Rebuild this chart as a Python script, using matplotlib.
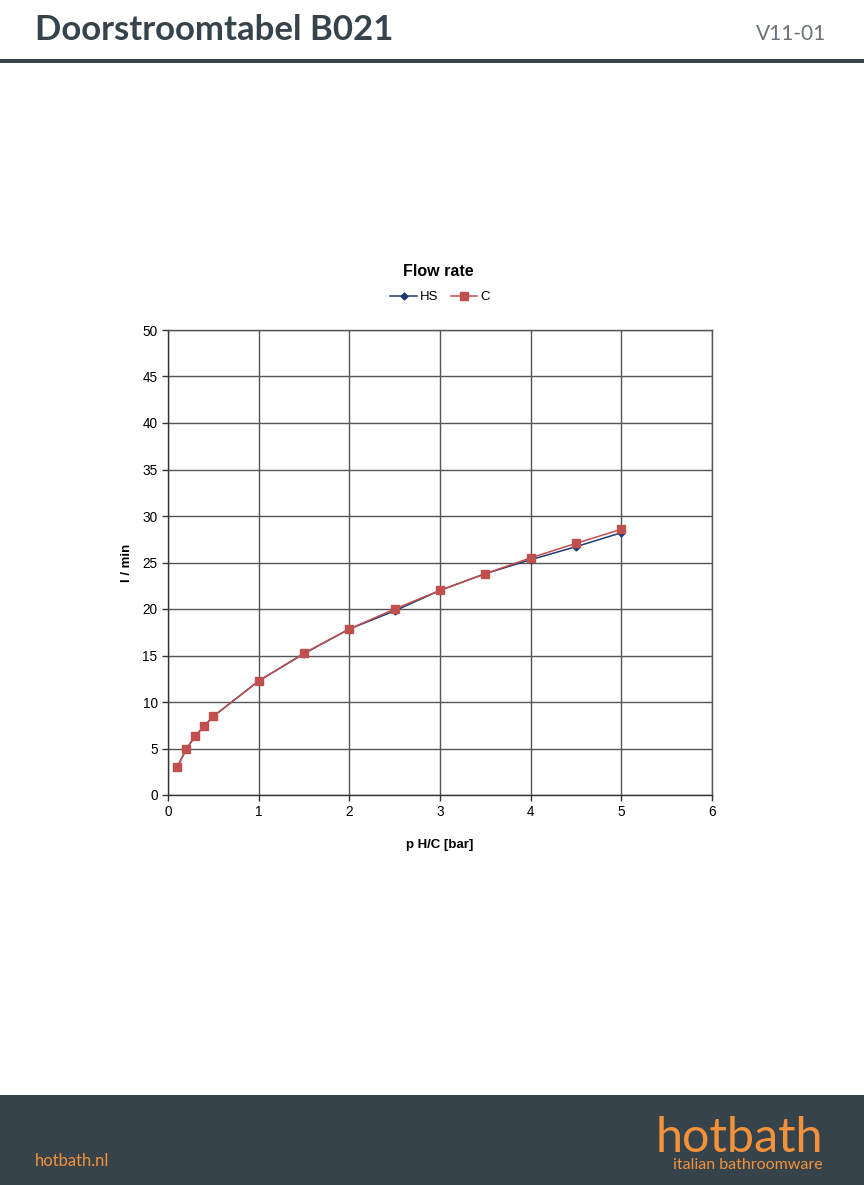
import matplotlib.pyplot as plt
from matplotlib.patches import Rectangle

pressure = [0.1, 0.2, 0.3, 0.4, 0.5, 1, 1.5, 2, 2.5, 3, 3.5, 4, 4.5, 5]
flow_hs = [2.97, 4.9, 6.34, 7.42, 8.46, 12.26, 15.2, 17.85, 19.8, 22.0, 23.8, 25.3, 26.7, 28.2]
flow_c = [2.97, 4.9, 6.34, 7.42, 8.46, 12.26, 15.25, 17.85, 20.0, 22.0, 23.8, 25.5, 27.06, 28.57]

x_ticks = [0, 1, 2, 3, 4, 5, 6]
y_ticks = [0, 5, 10, 15, 20, 25, 30, 35, 40, 45, 50]

dark = '#36434a'
orange = '#f3923a'

fig = plt.figure(figsize=(8.64, 11.85), dpi=100)

# header
fig.text(35 / 864, 1 - 30 / 1185, 'Doorstroomtabel B021', family='Lato', weight='bold',
         fontsize=25, color=dark, va='center', ha='left')
fig.text(826 / 864, 1 - 34 / 1185, 'V11-01', family='Lato', fontsize=15,
         color='#6b7378', va='center', ha='right')
fig.add_artist(Rectangle((0, 1 - 63 / 1185), 1, 4 / 1185, transform=fig.transFigure,
                         color=dark, lw=0))

# footer
fig.add_artist(Rectangle((0, 0), 1, 90 / 1185, transform=fig.transFigure, color=dark, lw=0))
fig.text(35 / 864, 1 - 1161 / 1185, 'hotbath.nl', family='Lato', fontsize=12,
         color=orange, va='center', ha='left')
fig.text(823 / 864, 1 - 1138 / 1185, 'hotbath', family='Lato', fontsize=35,
         color=orange, va='center', ha='right')
fig.text(823 / 864, 1 - 1165 / 1185, 'italian bathroomware', family='Lato', fontsize=11.5,
         color=orange, va='center', ha='right')

# chart
ax = fig.add_axes([168 / 864, 1 - 795 / 1185, 544 / 864, 465 / 1185])
ax.plot(pressure, flow_hs, color='#1f3a73', lw=1.1, marker='D', markersize=3.5, label='HS')
ax.plot(pressure, flow_c, color='#c0504d', lw=1.1, marker='s', markersize=5.5, label='C')
ax.set_xlim(0, 6)
ax.set_ylim(0, 50)
ax.set_xticks(x_ticks)
ax.set_yticks(y_ticks)
ax.grid(True, color='#555555', lw=1.0)
ax.set_axisbelow(True)
for name, s in ax.spines.items():
    s.set_color('#555555' if name in ('top', 'right') else '#333333')
    s.set_linewidth(1.0)
ax.tick_params(direction='out', length=4, width=1.0, color='#333333', labelsize=9.8,
               labelfontfamily='Liberation Sans')
ax.set_xlabel('p H/C [bar]', family='Liberation Sans', weight='bold', fontsize=9.5, labelpad=14)
ax.set_ylabel('l / min', family='Liberation Sans', weight='bold', fontsize=9.5, labelpad=7)

fig.text(438 / 864, 1 - 272 / 1185, 'Flow rate', family='Liberation Sans', weight='bold',
         fontsize=11.5, ha='center', va='center')
ax.legend(loc='center', bbox_to_anchor=(440 / 864, 1 - 297 / 1185),
          bbox_transform=fig.transFigure, ncol=2, frameon=False, handlelength=2.0,
          handletextpad=0.2, columnspacing=1.0,
          prop={'family': 'Liberation Sans', 'size': 9.5})

fig.savefig('out.png', dpi=100)
